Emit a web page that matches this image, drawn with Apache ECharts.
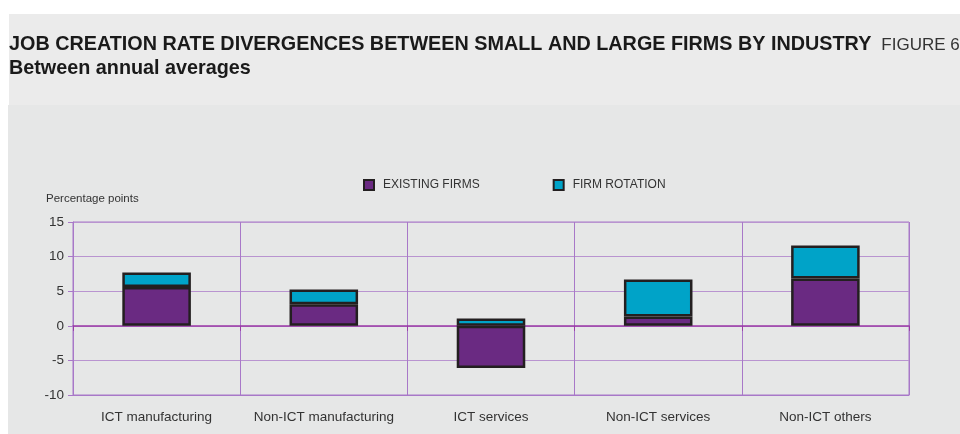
<!DOCTYPE html>
<html>
<head>
<meta charset="utf-8">
<script src="https://cdn.jsdelivr.net/npm/echarts@6/dist/echarts.min.js"></script>
<style>
  html, body { margin: 0; padding: 0; background: #fff; }
  #chart { width: 960px; height: 434px; }
</style>
</head>
<body>
<div id="chart"></div>
<script>
// 数据
const categories = ['ICT manufacturing', 'Non-ICT manufacturing', 'ICT services', 'Non-ICT services', 'Non-ICT others']
const existingFirms = [5.6, 3.1, -6.1, 1.35, 6.85]
const firmRotation = [2.1, 2.15, 1.05, 5.35, 4.75]
const yMin = -10
const yMax = 15
const yStep = 5

const purple = '#6a2a82'
const cyan = '#00a3c8'
const gridPurple = '#a878c8'
const zeroPurple = '#9a3aa6'
const font = '"Liberation Sans", Arial, sans-serif'

const chart = echarts.init(document.getElementById('chart'))

const barStyle = (color) => ({ color, borderColor: '#231f20', borderWidth: 2.5 })

chart.setOption({
  animation: false,
  textStyle: { fontFamily: font },
  graphic: [
    { type: 'rect', z: -10, silent: true, shape: { x: 9, y: 14, width: 951, height: 91 }, style: { fill: '#ebebeb' } },
    { type: 'rect', z: -10, silent: true, shape: { x: 8, y: 105, width: 952, height: 329 }, style: { fill: '#e6e7e7' } }
  ],
  title: {
    left: 4,
    top: 30,
    itemGap: 4,
    text: '{b|JOB CREATION RATE DIVERGENCES BETWEEN SMALL AND LARGE FIRMS BY INDUSTRY}  {n|FIGURE 6}',
    textStyle: {
      rich: {
        b: { fontFamily: font, fontSize: 19.8, fontWeight: 'bold', color: '#1a1a1a' },
        n: { fontFamily: font, fontSize: 17, fontWeight: 'normal', color: '#333' }
      }
    },
    subtext: 'Between annual averages',
    subtextStyle: { fontFamily: font, fontSize: 19.8, fontWeight: 'bold', color: '#1a1a1a' }
  },
  legend: {
    top: 174,
    left: 358,
    itemGap: 73,
    itemWidth: 10,
    itemHeight: 10,
    icon: 'rect',
    textStyle: { fontSize: 12, color: '#333', padding: [0, 0, 0, 4] },
    data: ['EXISTING FIRMS', 'FIRM ROTATION']
  },
  grid: {
    left: 73, right: 51, top: 222, bottom: 39,
    show: true, borderColor: gridPurple, borderWidth: 1, backgroundColor: 'transparent',
    containLabel: false,
    outerBoundsMode: 'none'
  },
  xAxis: [
    {
      // 底部类目轴：只负责标签
      type: 'category',
      data: categories,
      position: 'bottom',
      axisLine: { onZero: false, lineStyle: { color: gridPurple } },
      axisTick: { show: false },
      axisLabel: { margin: 15, fontSize: 13.5, color: '#333', interval: 0 },
      splitLine: { show: true, interval: 0, lineStyle: { color: gridPurple } }
    },
    {
      // 零线及其下方的小刻度
      type: 'category',
      data: categories,
      position: 'bottom',
      axisLine: { onZero: true, lineStyle: { color: zeroPurple, width: 1.5 } },
      axisTick: { show: true, length: 5, interval: 0, lineStyle: { color: zeroPurple } },
      axisLabel: { show: false },
      splitLine: { show: false }
    }
  ],
  yAxis: {
    type: 'value',
    min: yMin,
    max: yMax,
    interval: yStep,
    name: 'Percentage points',
    nameLocation: 'end',
    nameGap: 17,
    nameTextStyle: { fontSize: 11.5, color: '#333', align: 'left', padding: [0, 0, 0, -27] },
    axisLine: { show: true, lineStyle: { color: gridPurple } },
    axisTick: { show: true, length: 5, lineStyle: { color: gridPurple } },
    axisLabel: { fontSize: 13.5, color: '#333', margin: 9 },
    splitLine: { show: true, lineStyle: { color: '#b994d0' } }
  },
  series: [
    {
      name: 'EXISTING FIRMS',
      type: 'bar',
      stack: 'total',
      barWidth: '41%',
      data: existingFirms,
      itemStyle: barStyle(purple)
    },
    {
      name: 'FIRM ROTATION',
      type: 'bar',
      stack: 'total',
      barWidth: '41%',
      data: firmRotation,
      itemStyle: barStyle(cyan)
    }
  ]
})
</script>
</body>
</html>
